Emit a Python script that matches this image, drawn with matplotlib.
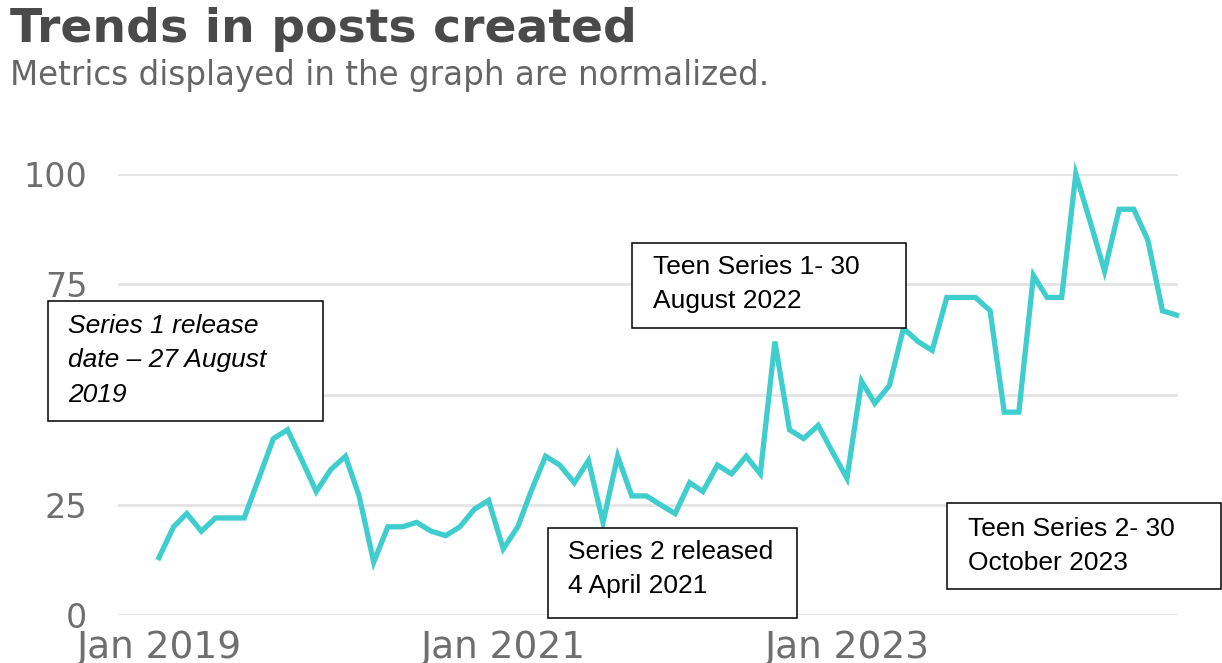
import numpy as np
import pandas as pd
from matplotlib import pyplot as plt
from matplotlib.patches import Rectangle

# monthly normalised post counts, Jan 2019 .. Dec 2024
months = pd.date_range("2019-01-01", periods=72, freq="MS")
posts = [13, 20, 23, 19, 22, 22, 22, 31, 40, 42, 35, 28,
         33, 36, 27, 12, 20, 20, 21, 19, 18, 20, 24, 26,
         15, 20, 28, 36, 34, 30, 35, 21, 36, 27, 27, 25,
         23, 30, 28, 34, 32, 36, 32, 62, 42, 40, 43, 37,
         31, 53, 48, 52, 65, 62, 60, 72, 72, 72, 69, 46,
         46, 77, 72, 72, 100, 89, 78, 92, 92, 85, 69, 68]

y_ticks = [0, 25, 50, 75, 100]
x_ticks = ["2019-01-01", "2021-01-01", "2023-01-01"]
x_tick_labels = ["Jan 2019", "Jan 2021", "Jan 2023"]

title = "Trends in posts created"
subtitle = "Metrics displayed in the graph are normalized."

W, H = 1222, 663
fig = plt.figure(figsize=(W / 100, H / 100), dpi=100)

def fx(x):
    return x / W

def fy(y):
    return 1 - y / H

ax = fig.add_axes([fx(118), fy(615), (1178 - 118) / W, (615 - 174) / H])
ax.plot(months, posts, color="#3fcdcd", lw=3.8, solid_joinstyle="miter",
        clip_on=False, zorder=3)

ax.set_ylim(0, 100)
ax.set_xlim(months[0] - pd.Timedelta(days=87), months[-1] + pd.Timedelta(days=3))
ax.set_yticks(y_ticks)
ax.set_yticklabels([str(v) for v in y_ticks])
ax.set_xticks(pd.to_datetime(x_ticks))
ax.set_xticklabels(x_tick_labels)
for s in ax.spines.values():
    s.set_visible(False)
ax.grid(axis="y", color="#e4e4e4", lw=2)
ax.set_axisbelow(True)
ax.tick_params(axis="both", length=0, colors="#6e6e6e")
ax.tick_params(axis="y", pad=22, labelsize=24)
ax.tick_params(axis="x", pad=11, labelsize=27)
for lab in ax.get_xticklabels() + ax.get_yticklabels():
    lab.set_family("DejaVu Sans")

fig.text(fx(10), fy(42), title, fontsize=34, fontweight="bold",
         color="#4a4a4a", va="baseline", family="DejaVu Sans")
fig.text(fx(10), fy(85), subtitle, fontsize=23.5, color="#666666",
         va="baseline", family="DejaVu Sans")

# annotation boxes (pixel positions from the reference)
boxes = [
    ((48, 301, 323, 421), (68, 314), "Series 1 release\ndate \u2013 27 August\n2019", "italic"),
    ((632, 243, 906, 328), (653, 255), "Teen Series 1- 30\nAugust 2022", "normal"),
    ((548, 528, 797, 618), (568, 540), "Series 2 released\n4 April 2021", "normal"),
    ((947, 503, 1221, 589), (968, 517), "Teen Series 2- 30\nOctober 2023", "normal"),
]
for (x0, y0, x1, y1), (tx, ty), txt, style in boxes:
    fig.add_artist(Rectangle((fx(x0), fy(y1)), (x1 - x0) / W, (y1 - y0) / H,
                             transform=fig.transFigure, facecolor="white",
                             edgecolor="black", lw=1.1, zorder=10))
    fig.text(fx(tx), fy(ty), txt, fontsize=19, style=style, color="black",
             family="Liberation Sans", va="top", ha="left",
             linespacing=1.55, zorder=11)

fig.savefig("out.png", dpi=100)
